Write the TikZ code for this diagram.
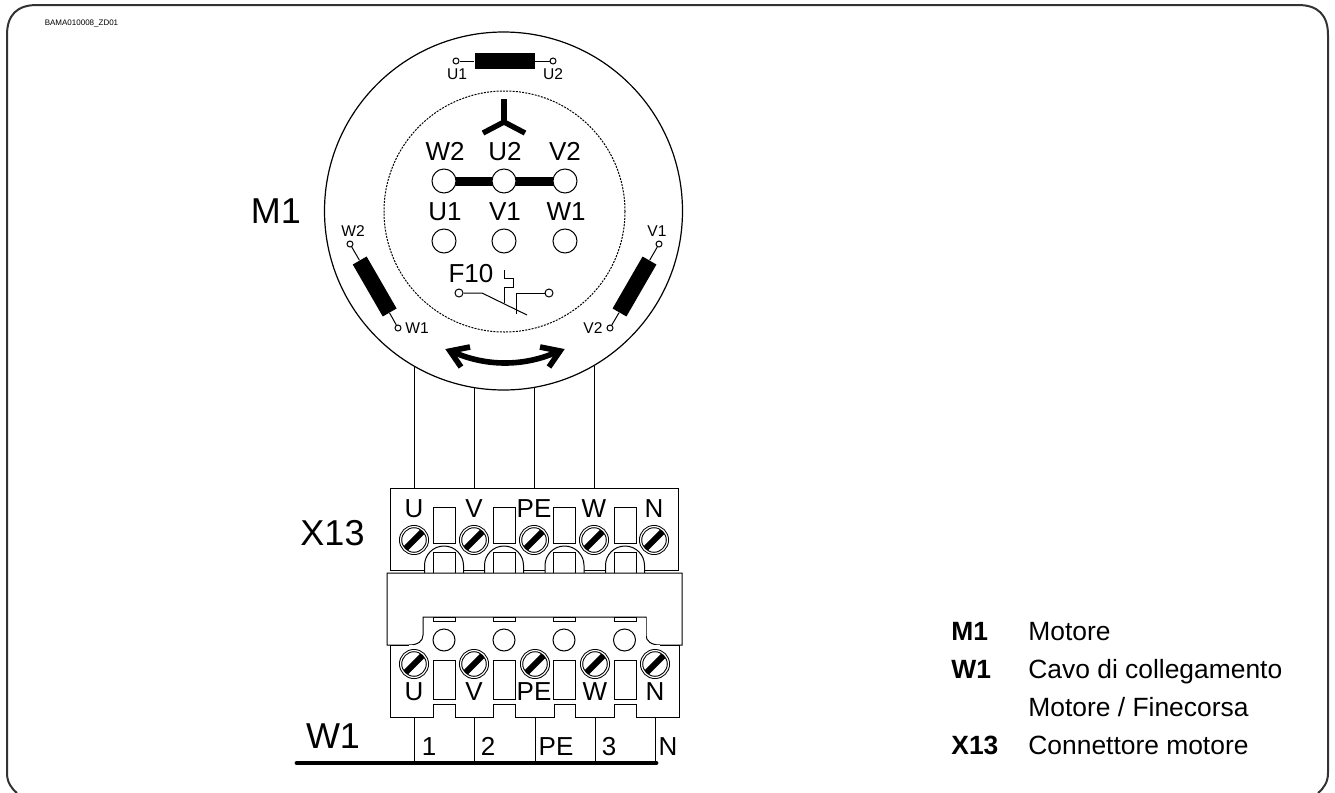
\documentclass[tikz,border=0pt]{standalone}
\usepackage{fontspec}
\setmainfont{Liberation Sans}
\tikzset{
  wire/.style={draw=black,line width=0.5pt},
  term/.style={circle,draw=black,fill=white,line width=0.5pt,minimum size=12pt,inner sep=0pt},
  hole/.style={circle,draw=black,fill=white,line width=0.5pt,minimum size=11pt,inner sep=0pt},
  tiny/.style={circle,draw=black,fill=white,line width=0.5pt,minimum size=3pt,inner sep=0pt},
  coil/.style={rectangle,fill=black,minimum width=30pt,minimum height=8pt,inner sep=0pt},
  screw/.style={circle,draw=black,fill=white,line width=0.5pt,minimum size=13.4pt,inner sep=0pt,double,double distance=0.6pt,
    path picture={\draw[line width=3pt] ([xshift=1pt,yshift=1pt]path picture bounding box.south west) -- ([xshift=-1pt,yshift=-1pt]path picture bounding box.north east);}},
  slot/.style={rectangle,draw=black,fill=white,line width=0.5pt,minimum width=11pt,inner sep=0pt},
  big/.style={inner sep=0pt,text height=12.9pt,text depth=0pt,font=\fontsize{18}{19}\selectfont},
  mid/.style={inner sep=0pt,text height=9.3pt,text depth=0pt,font=\fontsize{13}{14}\selectfont},
  small/.style={inner sep=0pt,text height=5.6pt,text depth=0pt,font=\fontsize{7.8}{8}\selectfont},
  leg/.style={inner sep=0pt,anchor=base west,font=\fontsize{13.2}{14}\selectfont}
}
\begin{document}
\begin{tikzpicture}[x=0.5pt,y=-0.5pt]
\useasboundingbox (0,0) rectangle (1335,793);

% frame
\draw[line width=1pt,draw=black!80] (17,793) .. controls (11,788) and (7,782) .. (7,773) -- (7,35) .. controls (7,15) and (17,5) .. (37,5) -- (1298,5) .. controls (1318,5) and (1328,15) .. (1328,35) -- (1328,773) .. controls (1328,782) and (1324,788) .. (1318,793);
\node[inner sep=0pt,font=\fontsize{4}{5}\selectfont] (code) at (81.5,23) {BAMA010008\_ZD01};

% motor
\node[circle,draw=black,line width=0.6pt,minimum size=179pt,inner sep=0pt] (motor) at (503.5,211) {};
\node[circle,draw=black,dash pattern=on 1pt off 0.6pt,line width=0.5pt,minimum size=120.5pt,inner sep=0pt] (inner) at (504.5,211.5) {};
\node[big] (M1) at (276,211) {M1};

% star
\coordinate (star) at (504,122);
\draw[line width=2.7pt] (504,99) -- (star);
\draw[line width=2.7pt] (483,133) -- (star) -- (525,133);

% terminals
\draw[line width=4.5pt] (444,181) -- (565,181);
\node[term] (tW2) at (444,181) {};
\node[term] (tU2) at (504,181) {};
\node[term] (tV2) at (565,181) {};
\node[term] (tU1) at (444,241) {};
\node[term] (tV1) at (504,241) {};
\node[term] (tW1) at (565,241) {};
\node[mid] at (445,151) {W2};
\node[mid] at (505,151) {U2};
\node[mid] at (565,151) {V2};
\node[mid] at (445,211) {U1};
\node[mid] at (505,211) {V1};
\node[mid] at (566,211) {W1};

% coils
\node[coil] (c1) at (504.5,61) {};
\node[tiny] (c1a) at (456,61) {};
\node[tiny] (c1b) at (553,61) {};
\path (c1a) edge[wire] (c1) (c1) edge[wire] (c1b);
\node[small] at (457,74) {U1};
\node[small] at (553,74) {U2};

\node[coil,rotate=-60] (c2) at (374.7,286.5) {};
\node[tiny] (c2a) at (350,244) {};
\node[tiny] (c2b) at (398,328) {};
\path (c2a) edge[wire] (c2) (c2) edge[wire] (c2b);
\node[small] at (353,231) {W2};
\node[small] at (417,328) {W1};

\node[coil,rotate=60] (c3) at (634.5,286.5) {};
\node[tiny] (c3a) at (659,244) {};
\node[tiny] (c3b) at (610,328) {};
\path (c3a) edge[wire] (c3) (c3) edge[wire] (c3b);
\node[small] at (657,231) {V1};
\node[small] at (593,328) {V2};

% F10
\node[mid] (F10) at (471,273) {F10};
\node[circle,draw=black,fill=white,line width=0.5pt,minimum size=4pt,inner sep=0pt] (f1) at (459,293) {};
\node[circle,draw=black,fill=white,line width=0.5pt,minimum size=4pt,inner sep=0pt] (f2) at (549,293) {};
\draw[wire] (f1) -- (482,293) -- (527,315);
\draw[wire] (f2) -- (516,293) -- (516,314);
\draw[wire] (504,270) -- (504,278) -- (513,278) -- (513,287) -- (504,287) -- (504,303);

% rotation arrow
\draw[line width=2.8pt] (451,351) .. controls (485,367) and (525,367) .. (559,351);
\draw[line width=2.8pt] (470,347) -- (450,351) -- (461,367);
\draw[line width=2.8pt] (540,347) -- (560,351) -- (549,367);

% upper block
\draw[wire,fill=white] (390,570) -- (390,488) -- (678,488) -- (678,570) -- cycle;
\coordinate (wU) at (414,488);
\coordinate (wV) at (474,488);
\coordinate (wPE) at (534,488);
\coordinate (wW) at (594,488);
\draw[wire] (414,366) -- (wU);
\draw[wire] (474,387.5) -- (wV);
\draw[wire] (534,387.5) -- (wPE);
\draw[wire] (594,366) -- (wW);
\node[big] (X13) at (332.5,533) {X13};

\node[mid] at (414,508) {U};
\node[mid] at (474,508) {V};
\node[mid] at (534,508) {PE};
\node[mid] at (594,508) {W};
\node[mid] at (654,508) {N};
\node[screw] (s1) at (414,540) {};
\node[screw] (s2) at (474,540) {};
\node[screw] (s3) at (534,540) {};
\node[screw] (s4) at (594,540) {};
\node[screw] (s5) at (654,540) {};
\node[slot,minimum height=18pt] at (444,525) {};
\node[slot,minimum height=18pt] at (504,525) {};
\node[slot,minimum height=18pt] at (564.5,525) {};
\node[slot,minimum height=18pt] at (625,525) {};
% arches
\draw[wire,fill=white] (424.5,573) -- (424.5,565.5) arc[start angle=180,end angle=360,radius=19.5] -- (463.5,573);
\draw[wire,fill=white] (484.5,573) -- (484.5,565.5) arc[start angle=180,end angle=360,radius=19.5] -- (523.5,573);
\draw[wire,fill=white] (545,573) -- (545,565.5) arc[start angle=180,end angle=360,radius=19.5] -- (584,573);
\draw[wire,fill=white] (605.5,573) -- (605.5,565.5) arc[start angle=180,end angle=360,radius=19.5] -- (644.5,573);
\node[slot,minimum height=10.5pt] at (444,562.5) {};
\node[slot,minimum height=10.5pt] at (504,562.5) {};
\node[slot,minimum height=10.5pt] at (564.5,562.5) {};
\node[slot,minimum height=10.5pt] at (625,562.5) {};

% middle block
\draw[wire,fill=white] (387,645) -- (387,573) -- (682,573) -- (682,645) -- (660,645) .. controls (651,645) and (646,641) .. (646,635) -- (646,617) -- (423,617) -- (423,635) .. controls (423,641) and (418,645) .. (409,645) -- cycle;

% lower block
\draw[wire,fill=white] (390,645) -- (390,717) -- (433,717) -- (433,704) -- (455,704) -- (455,717) -- (493,717) -- (493,704) -- (515,704) -- (515,717) -- (554,717) -- (554,704) -- (575,704) -- (575,717) -- (614,717) -- (614,704) -- (636,704) -- (636,717) -- (679,717) -- (679,645);
\draw[draw=none,fill=white] (423.5,617.5) rectangle (645.5,660);
\draw[wire] (409,645) -- (390,645);
\draw[wire] (660,645) -- (679,645);
\node[slot,minimum height=2pt] at (444,619) {};
\node[slot,minimum height=2pt] at (504,619) {};
\node[slot,minimum height=2pt] at (564.5,619) {};
\node[slot,minimum height=2pt] at (625,619) {};
\node[hole] (h1) at (444,640) {};
\node[hole] (h2) at (504,640) {};
\node[hole] (h3) at (564,640) {};
\node[hole] (h4) at (624.5,640) {};
\node[screw] (b1) at (414,664) {};
\node[screw] (b2) at (474,664) {};
\node[screw] (b3) at (535,664) {};
\node[screw] (b4) at (595,664) {};
\node[screw] (b5) at (655,664) {};
\node[slot,minimum height=19.5pt] at (444,679.5) {};
\node[slot,minimum height=19.5pt] at (504,679.5) {};
\node[slot,minimum height=19.5pt] at (564.5,679.5) {};
\node[slot,minimum height=19.5pt] at (625,679.5) {};
\node[mid] at (414,691) {U};
\node[mid] at (474,691) {V};
\node[mid] at (534,691) {PE};
\node[mid] at (595,691) {W};
\node[mid] at (655,691) {N};

% cable
\node[big] (W1) at (333,736) {W1};
\coordinate (bL) at (297,763);
\coordinate (bR) at (656,763);
\draw[line width=2.4pt,line cap=round] (bL) -- (bR);
\draw[wire] (414,717) -- (414,763);
\draw[wire] (474,717) -- (474,763);
\draw[wire] (535,717) -- (535,763);
\draw[wire] (595,717) -- (595,763);
\draw[wire] (655,717) -- (655,763);
\node[mid] at (429,746) {1};
\node[mid] at (488,746) {2};
\node[mid] at (556,746) {PE};
\node[mid] at (609,746) {3};
\node[mid] at (668,746) {N};

% legend
\node[leg] at (951,640.5) {\textbf{M1}};
\node[leg] at (1028,640.5) {Motore};
\node[leg] at (951,678) {\textbf{W1}};
\node[leg] at (1028,678) {Cavo di collegamento};
\node[leg] at (1028,716) {Motore / Finecorsa};
\node[leg] at (951,754) {\textbf{X13}};
\node[leg] at (1028,754) {Connettore motore};
\end{tikzpicture}
\end{document}
